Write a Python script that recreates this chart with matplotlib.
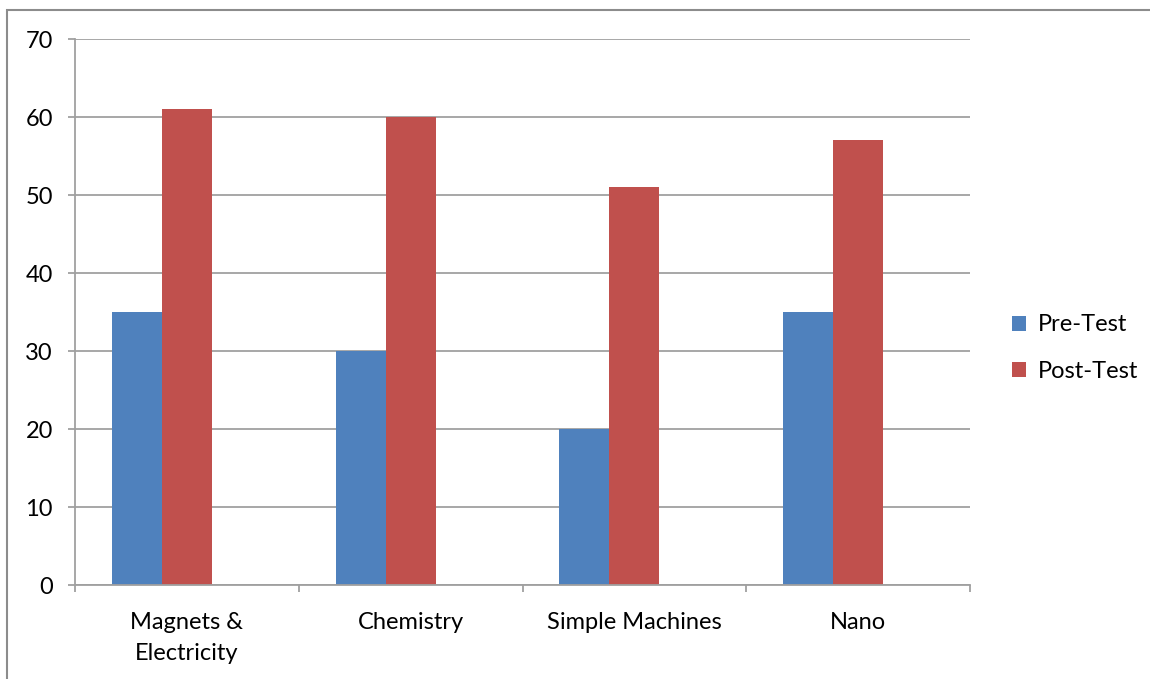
import matplotlib
matplotlib.use('Agg')
import matplotlib.pyplot as plt
from matplotlib.patches import Rectangle
import numpy as np

categories = ['Magnets &\nElectricity', 'Chemistry', 'Simple Machines', 'Nano']
pre_test = [35, 30, 20, 35]
post_test = [61, 60, 51, 57]

plt.rcParams['font.family'] = ['Lato', 'DejaVu Sans']

fig = plt.figure(figsize=(11.5, 6.79), dpi=100)
ax = fig.add_axes([75/1150, 94/679, 895/1150, 546/679])

# outer chart border (only left and top are in view)
top = 1 - 10/679
fig.patches.append(Rectangle((7/1150, -0.1), 1.2, top + 0.1,
                             transform=fig.transFigure, fill=False,
                             edgecolor='#8c8c8c', linewidth=1.5))

x = np.arange(len(categories))
w = 0.2235
ax.bar(x - w, pre_test, w, color='#4F81BD', label='Pre-Test')
ax.bar(x, post_test, w, color='#C0504D', label='Post-Test')

ax.set_xlim(-0.5, len(categories) - 0.5)
ax.set_ylim(0, 70)
ax.set_yticks(range(0, 71, 10))
ax.yaxis.grid(True, color='#a0a0a0', linewidth=1.3)
ax.set_axisbelow(True)

ax.set_xticks(np.arange(-0.5, len(categories), 1.0))
ax.set_xticklabels([])
ax.set_xticks(x, minor=True)
ax.set_xticklabels(categories, minor=True, fontsize=17, linespacing=1.6)
ax.tick_params(axis='x', which='minor', length=0, pad=19.5)
ax.tick_params(axis='x', which='major', length=5, color='#a0a0a0', width=1.3)
ax.tick_params(axis='y', length=5, color='#a0a0a0', width=1.3, labelsize=17, pad=11)

for s in ['top', 'right']:
    ax.spines[s].set_visible(False)
for s in ['left', 'bottom']:
    ax.spines[s].set_color('#a0a0a0')
    ax.spines[s].set_linewidth(1.3)

fig.legend(loc='center left', bbox_to_anchor=(991/1150, 0.487), frameon=False,
           fontsize=17, handlelength=0.6, handleheight=0.6,
           handletextpad=0.5, labelspacing=1.1)

fig.savefig('out.png', dpi=100)
